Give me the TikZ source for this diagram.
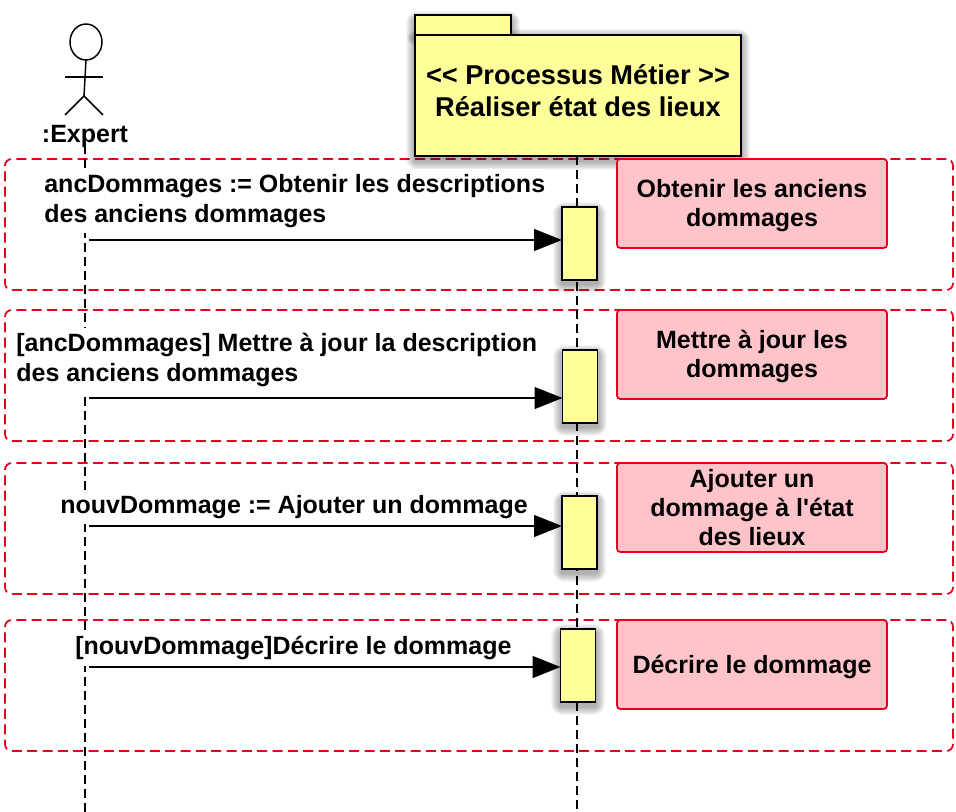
\documentclass[tikz,border=0pt]{standalone}
\usepackage{fontspec}
\setmainfont{Liberation Sans}[Ligatures=TeXOff]
\usetikzlibrary{arrows.meta,calc,shapes.geometric}
\definecolor{boxyellow}{HTML}{FFFF99}
\definecolor{notepink}{HTML}{FFC4CA}
\definecolor{framered}{HTML}{E6001E}
\newcommand{\softshadow}[4]{%
  \foreach \g in {9,8,7,6,5,4,3,2,1}{%
    \fill[black,opacity=0.04,rounded corners=\g*1.0] (#1-\g,#2+4-\g) rectangle (#3+\g,#4+4+\g);}%
}
\newcommand{\lowerstrut}{\rule{0pt}{17pt}}
\tikzset{
  x=0.75pt,y=-0.75pt,
  every node/.style={font=\fontsize{18.75pt}{22pt}\selectfont\bfseries,inner sep=0pt,outer sep=0pt},
  groupframe/.style={draw=framered,line width=1.3pt,dash pattern=on 7.5pt off 4pt,rounded corners=5pt,minimum width=948*0.75pt,minimum height=131*0.75pt},
  notebox/.style={draw=framered,line width=1.3pt,fill=notepink,rounded corners=2.5pt,minimum width=270*0.75pt,minimum height=89*0.75pt,align=center},
  activation/.style={draw=black,line width=1.2pt,fill=boxyellow,minimum width=35*0.75pt,minimum height=73*0.75pt},
  lifeline/.style={draw=black,line width=1.1pt,dash pattern=on 6.5pt off 4pt},
  message/.style={draw=black,line width=1.1pt,-{Triangle[length=21pt,width=16.5pt]}},
  msglabel/.style={fill=white,align=left,anchor=north west,inner ysep=4pt,inner xsep=1pt},
  stick/.style={draw=black,line width=1.1pt},
  pack/.style={draw=black,line width=1.5pt,fill=boxyellow}
}
\begin{document}
\begin{tikzpicture}
\useasboundingbox (0,0) rectangle (956,812);
% group frames
\node[groupframe] (g1) at (479,224.5) {};
\node[groupframe] (g2) at (479,375.5) {};
\node[groupframe] (g3) at (479,528.5) {};
\node[groupframe] (g4) at (479,685.5) {};
% ends of the lifelines
\coordinate (endA) at (85,812);
\coordinate (endB) at (577,812);
% actor
\node[draw=black,line width=1.1pt,shape=ellipse,minimum width=32*0.75pt,minimum height=36*0.75pt] (head) at (86,42) {};
\coordinate (hip) at (84,96);
\coordinate (armL) at (65,77);
\coordinate (armR) at (103,77);
\coordinate (legL) at (65,115);
\coordinate (legR) at (103,115);
\draw[stick] (head.south) -- (hip);
\draw[stick] (armL) -- (armR);
\draw[stick] (legL) -- (hip) -- (legR);
% package shadow and lifelines
\draw[lifeline] (85,145) -- (endA);
\node (expert) at (85,136) {:Expert};
\softshadow{415}{34}{741}{157}
\softshadow{415}{16}{511}{34}
\node[pack,minimum width=96*0.75pt,minimum height=20*0.75pt] (tab) at (463,25.5) {};
\node[pack,minimum width=326*0.75pt,minimum height=121*0.75pt,align=center,font=\fontsize{20.4pt}{24pt}\selectfont\bfseries] (pkg) at (578,95.5)
  {<{}< Processus Métier >{}>\\Réaliser état des lieux\rule[-7pt]{0pt}{7pt}};
\draw[lifeline] (pkg.south -| endB) -- (endB);
% message labels
\node[msglabel] (m1) at (43,169.3) {ancDommages := Obtenir les descriptions\\des anciens dommages};
\node[msglabel] (m2) at (15,328.3) {[ancDommages] Mettre à jour la description\\des anciens dommages};
\node[msglabel] (m3) at (59,490.3) {nouvDommage := Ajouter un dommage};
\node[msglabel] (m4) at (74,631.3) {[nouvDommage]Décrire le dommage};
% activations
\softshadow{562}{207}{597}{280}
\softshadow{562}{350}{598}{423}
\softshadow{562}{496}{597}{569}
\softshadow{560}{629}{596}{702}
\node[activation] (a1) at (579.5,243.5) {};
\node[activation] (a2) at (580,386.5) {};
\node[activation] (a3) at (579.5,532.5) {};
\node[activation] (a4) at (578,665.5) {};
% messages
\coordinate (s1) at (89,240);
\coordinate (s2) at (89,398);
\coordinate (s3) at (89,526);
\coordinate (s4) at (89,667);
\draw[message] (s1) -- (s1 -| a1.west);
\draw[message] (s2) -- (s2 -| a2.west);
\draw[message] (s3) -- (s3 -| a3.west);
\draw[message] (s4) -- (s4 -| a4.west);
% notes
\node[notebox] (n1) at (752,203.5) {\lowerstrut Obtenir les anciens\\dommages};
\node[notebox] (n2) at (752,354.5) {\lowerstrut Mettre à jour les\\dommages};
\node[notebox] (n3) at (752,507.5) {Ajouter un\\dommage à l'état\\des lieux};
\node[notebox] (n4) at (752,664.5) {\lowerstrut Décrire le dommage};
\end{tikzpicture}
\end{document}
